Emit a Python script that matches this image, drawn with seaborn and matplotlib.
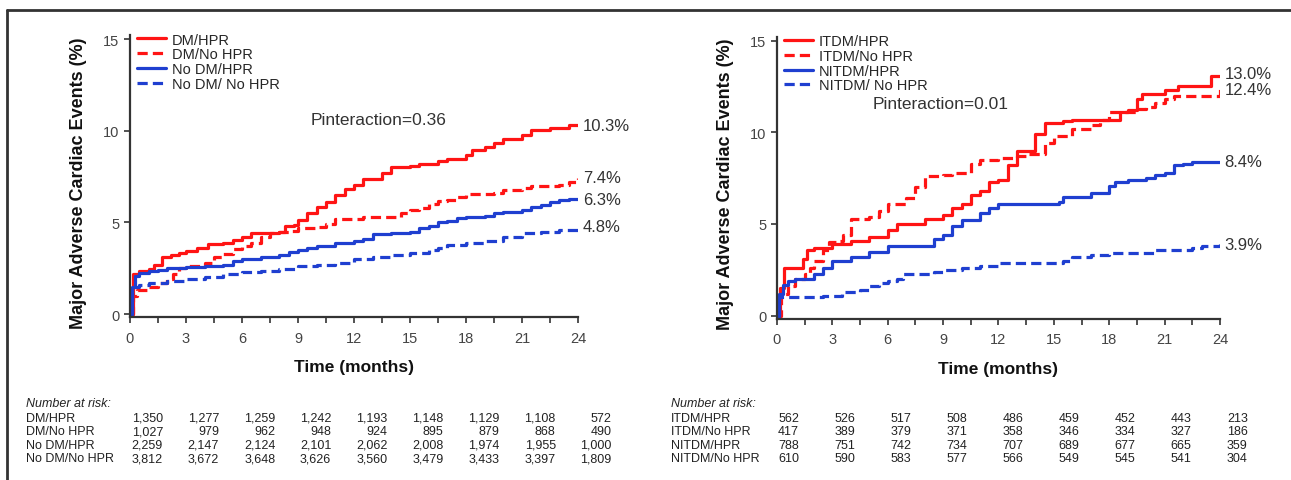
import numpy as np
import pandas as pd
import matplotlib.pyplot as plt
import seaborn as sns

sns.set_style('white')
plt.rcParams['font.family'] = ['Liberation Sans', 'DejaVu Sans']

RED = '#ff1414'
BLUE = '#1f3fd0'

# ---- left panel: DM / HPR ----
left_names = ['DM/HPR', 'DM/No HPR', 'No DM/HPR', 'No DM/ No HPR']
dm_hpr_t = [0, 0.15, 0.5, 1.0, 1.3, 1.7, 2.2, 2.6, 3, 3.6, 4.2, 5, 5.5, 6, 6.5, 7.5, 8, 8.3, 8.8, 9, 9.5, 10,
            10.5, 11, 11.5, 12, 12.5, 13.5, 14, 15, 15.5, 16.5, 17, 18, 18.3, 19, 19.5, 20, 21, 21.5, 22.5, 23.5, 24]
dm_hpr_v = [0, 2.2, 2.35, 2.45, 2.7, 3.1, 3.2, 3.35, 3.45, 3.6, 3.8, 3.9, 4.05, 4.2, 4.4, 4.4, 4.5, 4.8, 4.85,
            5.15, 5.5, 5.85, 6.1, 6.5, 6.8, 7.05, 7.35, 7.7, 8.0, 8.05, 8.2, 8.35, 8.45, 8.7, 8.95, 9.1, 9.35,
            9.55, 9.75, 10.05, 10.15, 10.3, 10.3]
dm_nohpr_t = [0, 0.15, 0.4, 1, 1.5, 2, 2.3, 2.6, 3, 3.5, 4, 4.5, 5, 5.5, 6, 6.5, 7, 7.5, 8, 8.5, 9, 10, 10.5, 11,
              12, 12.5, 14, 14.5, 15, 15.5, 16, 16.5, 17, 17.5, 18, 19.5, 20, 21, 21.5, 23, 23.5, 24]
dm_nohpr_v = [0, 1.0, 1.3, 1.5, 1.7, 1.9, 2.2, 2.5, 2.6, 2.6, 2.8, 3.1, 3.3, 3.55, 3.7, 3.9, 4.2, 4.4, 4.5, 4.55,
              4.7, 4.75, 4.9, 5.2, 5.2, 5.3, 5.3, 5.5, 5.7, 5.8, 6.0, 6.15, 6.2, 6.4, 6.55, 6.6, 6.75, 6.9, 7.0,
              7.05, 7.2, 7.4]
nodm_hpr_t = [0, 0.1, 0.25, 0.5, 1, 1.5, 2, 3, 4, 5, 5.5, 6, 7, 8, 8.5, 9, 9.5, 10, 11, 12, 12.5, 13, 14, 15,
              15.5, 16, 16.5, 17, 17.5, 18, 19, 19.5, 20, 21, 21.5, 22, 22.5, 23, 23.5, 24]
nodm_hpr_v = [0, 1.5, 2.1, 2.25, 2.35, 2.4, 2.5, 2.55, 2.6, 2.7, 2.9, 3.0, 3.1, 3.2, 3.4, 3.5, 3.6, 3.7, 3.85,
              4.0, 4.1, 4.35, 4.4, 4.5, 4.7, 4.8, 5.0, 5.1, 5.25, 5.3, 5.35, 5.5, 5.55, 5.7, 5.85, 5.95, 6.1,
              6.2, 6.3, 6.3]
nodm_nohpr_t = [0, 0.1, 0.5, 1, 2, 3, 4, 5, 6, 7, 8, 9, 10, 11, 12, 13, 14, 15, 16, 16.5, 17, 18, 19, 20, 21,
                22, 23, 24]
nodm_nohpr_v = [0, 1.5, 1.6, 1.7, 1.8, 1.9, 2.0, 2.2, 2.3, 2.35, 2.45, 2.6, 2.7, 2.8, 3.0, 3.1, 3.2, 3.35,
                3.5, 3.6, 3.75, 3.9, 4.0, 4.2, 4.4, 4.5, 4.6, 4.8]
left_end_labels = ['10.3%', '7.4%', '6.3%', '4.8%']
left_end_y = [10.3, 7.45, 6.25, 4.8]
left_p = 'Pinteraction=0.36'

# ---- right panel: ITDM / NITDM ----
right_names = ['ITDM/HPR', 'ITDM/No HPR', 'NITDM/HPR', 'NITDM/ No HPR']
itdm_hpr_t = [0, 0.15, 0.4, 1.4, 1.6, 2, 3, 4, 5, 6, 6.5, 8, 9, 9.5, 10, 10.5, 11, 11.5, 12, 12.5, 13, 13.5, 14,
              14.5, 15.5, 16, 18.3, 18.6, 19, 19.5, 19.8, 21, 21.7, 23.5, 24]
itdm_hpr_v = [0, 1.5, 2.6, 3.1, 3.6, 3.7, 3.9, 4.1, 4.3, 4.7, 5.0, 5.3, 5.5, 5.9, 6.1, 6.6, 6.8, 7.3, 7.4, 8.2,
              9.0, 9.0, 9.9, 10.5, 10.6, 10.7, 10.7, 11.1, 11.2, 11.8, 12.1, 12.3, 12.55, 13.1, 13.1]
itdm_nohpr_t = [0, 0.2, 0.6, 1, 1.5, 1.8, 2, 2.5, 2.8, 3.3, 3.6, 4, 5, 5.5, 6, 7, 7.5, 8, 9, 9.5, 10.5, 11, 12,
                13, 13.5, 14.5, 15, 16, 17, 17.5, 18, 19, 19.5, 20, 20.5, 21, 21.5, 23.8, 24]
itdm_nohpr_v = [0, 1.2, 1.6, 2.0, 2.3, 2.6, 3.0, 3.6, 4.0, 4.1, 4.4, 5.3, 5.4, 5.7, 6.1, 6.4, 7.0, 7.6, 7.7,
                7.8, 8.3, 8.5, 8.6, 8.7, 8.8, 9.4, 9.8, 10.2, 10.4, 10.7, 11.1, 11.1, 11.3, 11.4, 11.6, 11.8,
                12.0, 12.0, 12.4]
nitdm_hpr_t = [0, 0.1, 0.3, 0.6, 1, 2, 2.5, 3, 4, 5, 6, 8.3, 8.5, 9, 9.5, 10, 11, 11.5, 12, 15.3, 15.5, 16.5,
               17, 18, 18.3, 19, 20, 20.5, 21, 21.5, 22, 22.5, 24]
nitdm_hpr_v = [0, 1.2, 1.7, 1.9, 2.0, 2.3, 2.6, 3.0, 3.2, 3.5, 3.8, 3.8, 4.2, 4.4, 4.9, 5.2, 5.6, 5.9, 6.1,
               6.2, 6.5, 6.5, 6.7, 7.1, 7.3, 7.4, 7.5, 7.7, 7.8, 8.2, 8.3, 8.4, 8.4]
nitdm_nohpr_t = [0, 0.1, 2, 2.5, 3.5, 4.5, 5, 5.5, 6, 6.5, 6.8, 8.5, 9, 10, 11, 12, 15.5, 16, 17, 18, 20.5,
                 22.5, 23, 24]
nitdm_nohpr_v = [0, 1.0, 1.0, 1.1, 1.3, 1.4, 1.6, 1.8, 1.9, 2.0, 2.3, 2.4, 2.5, 2.6, 2.7, 2.85, 3.0, 3.2,
                 3.3, 3.4, 3.6, 3.7, 3.8, 3.9]
right_end_labels = ['13.0%', '12.4%', '8.4%', '3.9%']
right_end_y = [13.2, 12.35, 8.4, 3.9]
right_p = 'Pinteraction=0.01'

# ---- number at risk ----
left_risk_rows = ['DM/HPR', 'DM/No HPR', 'No DM/HPR', 'No DM/No HPR']
left_risk = [
    ['1,350', '1,277', '1,259', '1,242', '1,193', '1,148', '1,129', '1,108', '572'],
    ['1,027', '979', '962', '948', '924', '895', '879', '868', '490'],
    ['2,259', '2,147', '2,124', '2,101', '2,062', '2,008', '1,974', '1,955', '1,000'],
    ['3,812', '3,672', '3,648', '3,626', '3,560', '3,479', '3,433', '3,397', '1,809'],
]
right_risk_rows = ['ITDM/HPR', 'ITDM/No HPR', 'NITDM/HPR', 'NITDM/No HPR']
right_risk = [
    ['562', '526', '517', '508', '486', '459', '452', '443', '213'],
    ['417', '389', '379', '371', '358', '346', '334', '327', '186'],
    ['788', '751', '742', '734', '707', '689', '677', '665', '359'],
    ['610', '590', '583', '577', '566', '549', '545', '541', '304'],
]

styles = [(RED, '-'), (RED, '--'), (BLUE, '-'), (BLUE, '--')]

W, H = 1291, 481
fig = plt.figure(figsize=(W / 100, H / 100), dpi=100)


def px(x, y):
    return x / W, 1 - y / H


def km_panel(rect, names, series, end_labels, end_y, ptext, pxy, ylab_x):
    ax = fig.add_axes(rect)
    for (t, v), name, (c, ls) in zip(series, names, styles):
        df = pd.DataFrame({'t': t, 'v': v})
        line_kw = dict(dashes=(3.2, 1.6)) if ls == '--' else {}
        sns.lineplot(data=df, x='t', y='v', ax=ax, color=c, lw=2.3, drawstyle='steps-post',
                     label=name, estimator=None, sort=False, **line_kw)
    for lab, yv in zip(end_labels, end_y):
        ax.text(24.25, yv, lab, fontsize=12, color='#333333', va='center', ha='left')
    ax.text(pxy[0], pxy[1], ptext, fontsize=12.5, color='#333333', ha='center', va='center',
            transform=ax.transAxes)
    ax.set_xlim(0, 24)
    ax.set_ylim(-0.16, 15.2)
    ax.set_xticks(np.arange(0, 25, 3))
    ax.set_xticks(np.arange(1.5, 24, 3), minor=True)
    ax.set_yticks([0, 5, 10, 15])
    ax.tick_params(axis='both', which='both', direction='out', length=4, width=1.2,
                   color='#333333', labelsize=10.5, labelcolor='#444444', bottom=True, left=True)
    ax.tick_params(axis='x', pad=6)
    for s in ['top', 'right']:
        ax.spines[s].set_visible(False)
    for s in ['left', 'bottom']:
        ax.spines[s].set_color('#333333')
        ax.spines[s].set_linewidth(1.6)
    ax.set_xlabel('Time (months)', fontsize=12.5, fontweight='bold', color='#111111')
    ax.set_ylabel('Major Adverse Cardiac Events (%)', fontsize=13, fontweight='bold', color='#111111')
    ax.xaxis.set_label_coords(0.5, -0.15)
    ax.yaxis.set_label_coords(ylab_x, 0.48)
    ax.legend(loc='upper left', bbox_to_anchor=(0.015, 1.01), frameon=False, fontsize=10.5,
              labelspacing=0.05, handlelength=2.0, handletextpad=0.4, borderpad=0, borderaxespad=0)
    return ax


left_series = [(dm_hpr_t, dm_hpr_v), (dm_nohpr_t, dm_nohpr_v), (nodm_hpr_t, nodm_hpr_v),
               (nodm_nohpr_t, nodm_nohpr_v)]
right_series = [(itdm_hpr_t, itdm_hpr_v), (itdm_nohpr_t, itdm_nohpr_v), (nitdm_hpr_t, nitdm_hpr_v),
                (nitdm_nohpr_t, nitdm_nohpr_v)]

km_panel([130 / W, 1 - 318 / H, 448 / W, 281.6 / H], left_names, left_series,
         left_end_labels, left_end_y, left_p, (0.555, 0.7), -0.095)
km_panel([777 / W, 1 - 319.6 / H, 443 / W, 281.6 / H], right_names, right_series,
         right_end_labels, right_end_y, right_p, (0.37, 0.765), -0.098)


def risk_table(x_lab, x_num0, rows, vals):
    fig.text(*px(x_lab, 404), 'Number at risk:', fontsize=9, style='italic', color='#222222',
             va='center', ha='left')
    for i, (name, row) in enumerate(zip(rows, vals)):
        y = 419 + i * 13.4
        fig.text(*px(x_lab, y), name, fontsize=9, color='#222222', va='center', ha='left')
        for j, v in enumerate(row):
            fig.text(*px(x_num0 + j * 56.1, y), v, fontsize=9, color='#222222', va='center', ha='right')


risk_table(26, 163, left_risk_rows, left_risk)
risk_table(671, 799, right_risk_rows, right_risk)

# outer frame (left and top edges)
fig.add_artist(plt.Line2D([7 / W, 7 / W], [0, 1 - 11 / H], color='#333333', lw=2))
fig.add_artist(plt.Line2D([7 / W, 1], [1 - 11 / H, 1 - 11 / H], color='#333333', lw=2))

fig.savefig('out.png', dpi=100)
